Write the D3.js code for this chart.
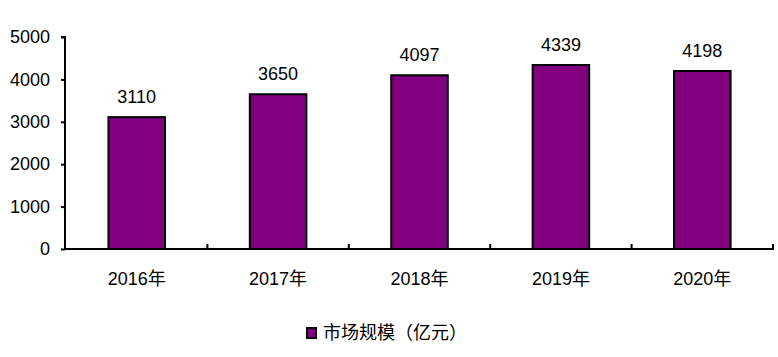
<!DOCTYPE html>
<html><head><meta charset="utf-8">
<script src="https://cdn.jsdelivr.net/npm/d3@7"></script>
<style>body{margin:0;background:#fff}svg{display:block}text{font-family:"Liberation Sans",Arial,"Noto Sans CJK SC",sans-serif}</style>
</head><body>
<script>
const categories = ["2016年","2017年","2018年","2019年","2020年"];
const values = [3110,3650,4097,4339,4198];
const yTicks = [0,1000,2000,3000,4000,5000];
const seriesName = "市场规模（亿元）";

const W=778,H=357;
const svg=d3.select("body").append("svg").attr("width",W).attr("height",H);
const x=d3.scaleBand().domain(categories).range([66,773]).paddingInner(0.6).paddingOuter(0.3);
const y=d3.scaleLinear().domain([0,5000]).range([249,37]);
const fs=18;

// bars
svg.selectAll("rect.bar").data(values).join("rect").attr("class","bar")
  .attr("x",(d,i)=>x(categories[i])).attr("width",x.bandwidth())
  .attr("y",d=>y(d)).attr("height",d=>y(0)-y(d))
  .attr("fill","#800080").attr("stroke","#000").attr("stroke-width",2);

// value labels
svg.selectAll("text.val").data(values).join("text").attr("class","val")
  .attr("x",(d,i)=>x(categories[i])+x.bandwidth()/2).attr("y",d=>y(d)-14)
  .attr("text-anchor","middle").attr("font-size",fs).text(d=>d);

// y axis
const ya=svg.append("g").attr("transform","translate(65,0)")
  .call(d3.axisLeft(y).tickValues(yTicks).tickSize(4).tickPadding(11).tickFormat(d3.format("d")));
ya.select(".domain").attr("stroke","#000").attr("stroke-width",2).attr("d","M-4,"+y(5000)+"H0V"+y(0));
ya.selectAll(".tick line").attr("stroke","#000").attr("stroke-width",2);
ya.selectAll(".tick text").attr("font-size",fs).attr("fill","#000").attr("font-family","Liberation Sans, Arial");

// x axis
const step=x.step();
const bounds=d3.range(categories.length+1).map(i=>66+i*step);
svg.append("line").attr("x1",64).attr("x2",774).attr("y1",y(0)).attr("y2",y(0)).attr("stroke","#000").attr("stroke-width",2);
svg.selectAll("line.xt").data(bounds.slice(1)).join("line").attr("class","xt")
  .attr("x1",d=>d).attr("x2",d=>d).attr("y1",y(0)).attr("y2",y(0)-5).attr("stroke","#000").attr("stroke-width",2);
svg.selectAll("text.cat").data(categories).join("text").attr("class","cat")
  .attr("x",d=>x(d)+x.bandwidth()/2).attr("y",285).attr("text-anchor","middle").attr("font-size",fs).text(d=>d);

// legend
svg.append("rect").attr("x",307).attr("y",328).attr("width",9).attr("height",10).attr("fill","#800080").attr("stroke","#000").attr("stroke-width",2);
svg.append("text").attr("x",323).attr("y",339).attr("font-size",fs).text(seriesName);
</script>
</body></html>
